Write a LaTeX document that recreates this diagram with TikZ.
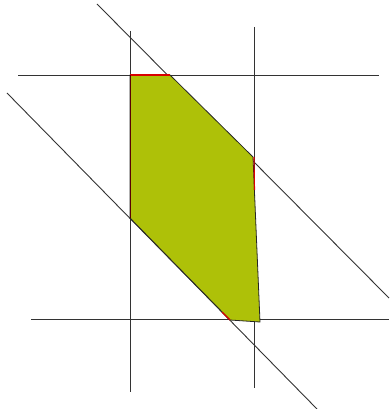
\documentclass[tikz,border=0pt]{standalone}
\begin{document}
\begin{tikzpicture}[x=1pt,y=-1pt,
  gridline/.style={draw=black!80,line width=0.9pt},
  edge/.style={draw=black!85,line width=0.8pt},
  hilite/.style={draw=red!85!black,line width=1.1pt}]
\definecolor{polyfill}{RGB}{174,193,8}
\useasboundingbox (0,0) rectangle (389,409);
% construction lines
\coordinate (v1t) at (130,31); \coordinate (v1b) at (130,392);
\coordinate (v2t) at (254,27); \coordinate (v2b) at (254,388);
\coordinate (h1l) at (18,75);  \coordinate (h1r) at (379,75);
\coordinate (h2l) at (31,319); \coordinate (h2r) at (389,319);
\coordinate (d1a) at (97,4);   \coordinate (d1b) at (389,298);
\coordinate (d2a) at (7,93);   \coordinate (d2b) at (317,409);
\draw[gridline] (v1t) -- (v1b);
\draw[gridline] (v2t) -- (v2b);
\draw[gridline] (h1l) -- (h1r);
\draw[gridline] (h2l) -- (h2r);
\draw[gridline] (d1a) -- (d1b);
\draw[gridline] (d2a) -- (d2b);
% polygon
\coordinate (A) at (130,75);
\coordinate (B) at (170,75);
\coordinate (C) at (253,157);
\coordinate (D) at (260,322);
\coordinate (E) at (230,320);
\coordinate (F) at (130,218);
\fill[polyfill] (A) -- (B) -- (C) -- (D) -- (E) -- (F) -- cycle;
\draw[edge] (A) -- (B) -- (C) -- (D) -- (E) -- (F) -- cycle;
% red highlights
\coordinate (Cr) at (254.5,190);
\coordinate (Er) at (222,312);
\draw[hilite] (A) -- (B);
\draw[draw=red!35!black,line width=0.8pt] (F) -- (A);
\draw[hilite] ([xshift=1pt]C) -- (Cr);
\draw[hilite] (Er) -- (E);
\end{tikzpicture}
\end{document}
